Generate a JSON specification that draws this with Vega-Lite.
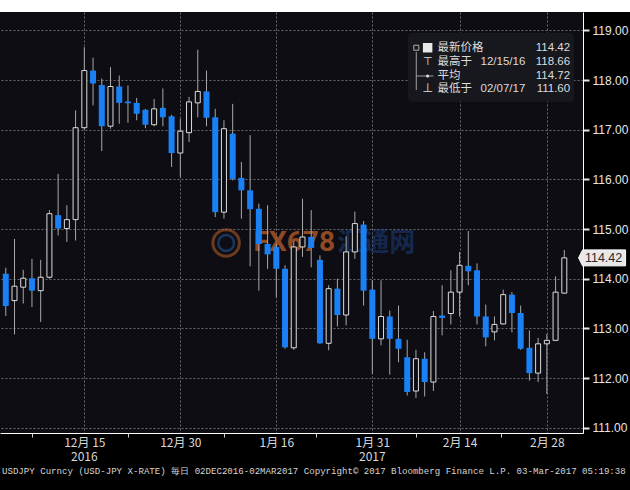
{
  "$schema": "https://vega.github.io/schema/vega-lite/v6.json",
  "width": 583,
  "height": 421,
  "autosize": {"type": "none"},
  "padding": {"left": 0, "top": 12, "right": 47, "bottom": 57},
  "background": "#000000",
  "config": {
    "view": {"fill": "#0d0d13", "stroke": null},
    "text": {"font": "Noto Sans CJK SC"}
  },
  "title": {
    "text": "USDJPY Curncy (USD-JPY X-RATE)  毎日 02DEC2016-02MAR2017  Copyright© 2017 Bloomberg Finance L.P.  03-Mar-2017 05:19:38",
    "orient": "bottom",
    "anchor": "start",
    "frame": "group",
    "font": "Liberation Mono",
    "fontSize": 9.1,
    "fontWeight": "normal",
    "color": "#d4d4d4",
    "offset": 4,
    "dx": 2
  },
  "data": {
    "values": [
      {"d": "2016-12-02", "i": 0, "o": 114.10, "h": 114.22, "l": 113.25, "c": 113.45},
      {"d": "2016-12-05", "i": 1, "o": 113.56, "h": 114.80, "l": 112.88, "c": 113.85},
      {"d": "2016-12-06", "i": 2, "o": 113.83, "h": 114.18, "l": 113.50, "c": 114.01},
      {"d": "2016-12-07", "i": 3, "o": 114.01, "h": 114.40, "l": 113.43, "c": 113.76},
      {"d": "2016-12-08", "i": 4, "o": 113.76, "h": 114.38, "l": 113.13, "c": 114.03},
      {"d": "2016-12-09", "i": 5, "o": 114.03, "h": 115.38, "l": 114.00, "c": 115.31},
      {"d": "2016-12-12", "i": 6, "o": 115.28, "h": 116.11, "l": 114.87, "c": 115.01},
      {"d": "2016-12-13", "i": 7, "o": 115.01, "h": 115.48, "l": 114.74, "c": 115.19},
      {"d": "2016-12-14", "i": 8, "o": 115.19, "h": 117.39, "l": 114.77, "c": 117.04},
      {"d": "2016-12-15", "i": 9, "o": 117.04, "h": 118.66, "l": 117.00, "c": 118.19},
      {"d": "2016-12-16", "i": 10, "o": 118.19, "h": 118.45, "l": 117.49, "c": 117.93},
      {"d": "2016-12-19", "i": 11, "o": 117.90, "h": 118.03, "l": 116.57, "c": 117.07},
      {"d": "2016-12-20", "i": 12, "o": 117.07, "h": 118.26, "l": 117.02, "c": 117.87},
      {"d": "2016-12-21", "i": 13, "o": 117.87, "h": 118.09, "l": 117.12, "c": 117.54},
      {"d": "2016-12-22", "i": 14, "o": 117.57, "h": 117.89, "l": 117.14, "c": 117.53},
      {"d": "2016-12-23", "i": 15, "o": 117.54, "h": 117.64, "l": 117.19, "c": 117.32},
      {"d": "2016-12-26", "i": 16, "o": 117.40, "h": 117.42, "l": 117.03, "c": 117.10},
      {"d": "2016-12-27", "i": 17, "o": 117.10, "h": 117.62, "l": 117.07, "c": 117.42},
      {"d": "2016-12-28", "i": 18, "o": 117.44, "h": 117.83, "l": 117.07, "c": 117.25},
      {"d": "2016-12-29", "i": 19, "o": 117.27, "h": 117.30, "l": 116.25, "c": 116.53},
      {"d": "2016-12-30", "i": 20, "o": 116.53, "h": 117.22, "l": 116.05, "c": 116.97},
      {"d": "2017-01-02", "i": 21, "o": 116.94, "h": 117.66, "l": 116.75, "c": 117.56},
      {"d": "2017-01-03", "i": 22, "o": 117.54, "h": 118.61, "l": 117.25, "c": 117.77},
      {"d": "2017-01-04", "i": 23, "o": 117.77, "h": 118.19, "l": 117.07, "c": 117.24},
      {"d": "2017-01-05", "i": 24, "o": 117.25, "h": 117.42, "l": 115.24, "c": 115.34},
      {"d": "2017-01-06", "i": 25, "o": 115.34, "h": 117.19, "l": 115.21, "c": 117.02},
      {"d": "2017-01-09", "i": 26, "o": 116.92, "h": 117.52, "l": 115.98, "c": 116.01},
      {"d": "2017-01-10", "i": 27, "o": 116.03, "h": 116.35, "l": 115.21, "c": 115.78},
      {"d": "2017-01-11", "i": 28, "o": 115.78, "h": 116.89, "l": 114.25, "c": 115.40},
      {"d": "2017-01-12", "i": 29, "o": 115.41, "h": 115.51, "l": 113.76, "c": 114.70},
      {"d": "2017-01-13", "i": 30, "o": 114.70, "h": 115.48, "l": 114.20, "c": 114.49},
      {"d": "2017-01-16", "i": 31, "o": 114.64, "h": 114.70, "l": 113.63, "c": 114.20},
      {"d": "2017-01-17", "i": 32, "o": 114.20, "h": 114.27, "l": 112.59, "c": 112.62},
      {"d": "2017-01-18", "i": 33, "o": 112.61, "h": 114.76, "l": 112.57, "c": 114.64},
      {"d": "2017-01-19", "i": 34, "o": 114.64, "h": 115.61, "l": 114.44, "c": 114.84},
      {"d": "2017-01-20", "i": 35, "o": 114.84, "h": 115.38, "l": 114.23, "c": 114.62},
      {"d": "2017-01-23", "i": 36, "o": 114.38, "h": 114.47, "l": 112.69, "c": 112.70},
      {"d": "2017-01-24", "i": 37, "o": 112.70, "h": 113.87, "l": 112.56, "c": 113.80},
      {"d": "2017-01-25", "i": 38, "o": 113.80, "h": 114.00, "l": 113.04, "c": 113.27},
      {"d": "2017-01-26", "i": 39, "o": 113.27, "h": 114.85, "l": 113.06, "c": 114.54},
      {"d": "2017-01-27", "i": 40, "o": 114.54, "h": 115.35, "l": 114.40, "c": 115.11},
      {"d": "2017-01-30", "i": 41, "o": 115.09, "h": 115.16, "l": 113.46, "c": 113.76},
      {"d": "2017-01-31", "i": 42, "o": 113.78, "h": 113.97, "l": 112.09, "c": 112.79},
      {"d": "2017-02-01", "i": 43, "o": 112.79, "h": 113.97, "l": 112.66, "c": 113.24},
      {"d": "2017-02-02", "i": 44, "o": 113.24, "h": 113.36, "l": 112.07, "c": 112.79},
      {"d": "2017-02-03", "i": 45, "o": 112.79, "h": 113.46, "l": 112.32, "c": 112.59},
      {"d": "2017-02-06", "i": 46, "o": 112.42, "h": 112.77, "l": 111.65, "c": 111.72},
      {"d": "2017-02-07", "i": 47, "o": 111.74, "h": 112.57, "l": 111.60, "c": 112.39},
      {"d": "2017-02-08", "i": 48, "o": 112.39, "h": 112.52, "l": 111.63, "c": 111.92},
      {"d": "2017-02-09", "i": 49, "o": 111.92, "h": 113.35, "l": 111.74, "c": 113.24},
      {"d": "2017-02-10", "i": 50, "o": 113.26, "h": 113.87, "l": 112.86, "c": 113.21},
      {"d": "2017-02-13", "i": 51, "o": 113.30, "h": 114.17, "l": 113.08, "c": 113.73},
      {"d": "2017-02-14", "i": 52, "o": 113.73, "h": 114.54, "l": 113.24, "c": 114.27},
      {"d": "2017-02-15", "i": 53, "o": 114.26, "h": 114.96, "l": 113.87, "c": 114.15},
      {"d": "2017-02-16", "i": 54, "o": 114.17, "h": 114.31, "l": 113.08, "c": 113.24},
      {"d": "2017-02-17", "i": 55, "o": 113.24, "h": 113.48, "l": 112.64, "c": 112.82},
      {"d": "2017-02-20", "i": 56, "o": 112.93, "h": 113.24, "l": 112.76, "c": 113.08},
      {"d": "2017-02-21", "i": 57, "o": 113.09, "h": 113.78, "l": 113.08, "c": 113.68},
      {"d": "2017-02-22", "i": 58, "o": 113.68, "h": 113.73, "l": 112.92, "c": 113.31},
      {"d": "2017-02-23", "i": 59, "o": 113.31, "h": 113.46, "l": 112.57, "c": 112.59},
      {"d": "2017-02-24", "i": 60, "o": 112.61, "h": 112.96, "l": 111.95, "c": 112.10},
      {"d": "2017-02-27", "i": 61, "o": 112.10, "h": 112.81, "l": 111.92, "c": 112.69},
      {"d": "2017-02-28", "i": 62, "o": 112.69, "h": 112.89, "l": 111.68, "c": 112.76},
      {"d": "2017-03-01", "i": 63, "o": 112.76, "h": 114.05, "l": 112.76, "c": 113.73},
      {"d": "2017-03-02", "i": 64, "o": 113.71, "h": 114.58, "l": 113.70, "c": 114.42}
    ]
  },
  "layer": [
    {
      "data": {"values": [{}]},
      "mark": {"type": "point", "shape": "circle", "filled": false, "stroke": "#b8602a", "strokeWidth": 3, "opacity": 0.55, "size": 700},
      "encoding": {"x": {"datum": 25.25}, "y": {"datum": 114.72}}
    },
    {
      "data": {"values": [{}]},
      "mark": {"type": "point", "shape": "circle", "filled": false, "stroke": "#2a5a9a", "strokeWidth": 2.5, "opacity": 0.55, "size": 250},
      "encoding": {"x": {"datum": 25.25}, "y": {"datum": 114.72}}
    },
    {
      "data": {"values": [{}]},
      "mark": {"type": "text", "text": "FX678", "align": "left", "baseline": "middle", "font": "Roboto", "fontWeight": "bold", "fontSize": 28, "color": "#c8642a", "opacity": 0.7},
      "encoding": {"x": {"datum": 28.4}, "y": {"datum": 114.72}}
    },
    {
      "data": {"values": [{}]},
      "mark": {"type": "text", "text": "汇通网", "align": "left", "baseline": "middle", "font": "Noto Sans CJK SC", "fontWeight": "bold", "fontSize": 26, "color": "#1d4486", "opacity": 0.5},
      "encoding": {"x": {"datum": 37.98}, "y": {"datum": 114.72}}
    },
    {
      "mark": {"type": "rule", "color": "#a8a8a8", "strokeWidth": 1},
      "encoding": {
        "x": {
          "field": "i",
          "type": "quantitative",
          "scale": {"domain": [-0.089, 65.57], "nice": false, "zero": false},
          "axis": {
            "title": null,
            "orient": "bottom",
            "values": [3, 9, 14, 20, 25, 31, 35.6, 42, 47, 52, 56.7, 62],
            "labelExpr": "datum.value == 9 ? '12月 15' : datum.value == 20 ? '12月 30' : datum.value == 31 ? '1月 16' : datum.value == 42 ? '1月 31' : datum.value == 52 ? '2月 14' : datum.value == 62 ? '2月 28' : ''",
            "labelOverlap": false,
            "labelFlush": false,
            "labelFont": "Noto Sans CJK SC",
            "labelFontSize": 12,
            "labelColor": "#d8d8d8",
            "labelPadding": 4,
            "domainColor": "#ffffff",
            "domainWidth": 1,
            "tickColor": "#cfcfcf",
            "tickSize": {"condition": {"test": "indexof([9, 20, 31, 42, 52, 62], datum.value) >= 0", "value": 0}, "value": 4},
            "grid": true,
            "gridColor": "#6a6a6a",
            "gridDash": [2, 2],
            "gridOpacity": {"condition": {"test": "indexof([9, 20, 31, 42, 52, 62], datum.value) < 0", "value": 0}, "value": 1}
          }
        },
        "y": {
          "field": "l",
          "type": "quantitative",
          "scale": {"domain": [110.895, 119.369], "nice": false, "zero": false},
          "axis": {
            "title": null,
            "orient": "right",
            "values": [111, 111.5, 112, 112.5, 113, 113.5, 114, 114.5, 115, 115.5, 116, 116.5, 117, 117.5, 118, 118.5, 119],
            "format": ".2f",
            "labelExpr": "datum.value % 1 == 0 ? datum.label : ''",
            "labelFont": "Liberation Sans",
            "labelFontSize": 12,
            "labelColor": "#e6e6e6",
            "labelPadding": 3,
            "labelOverlap": false,
            "domainColor": "#ffffff",
            "tickColor": "#e6e6e6",
            "tickSize": {"condition": {"test": "datum.value % 1 != 0", "value": 4}, "value": 6},
            "tickWidth": {"condition": {"test": "datum.value % 1 != 0", "value": 1}, "value": 2},
            "grid": true,
            "gridColor": "#6a6a6a",
            "gridDash": [2, 2],
            "gridOpacity": {"condition": {"test": "datum.value % 1 != 0", "value": 0}, "value": 1}
          }
        },
        "y2": {"field": "h"}
      }
    },
    {
      "transform": [{"filter": "datum.c < datum.o"}],
      "mark": {"type": "bar", "size": 6, "fill": "#1a80f5", "stroke": null},
      "encoding": {
        "x": {"field": "i", "type": "quantitative"},
        "y": {"field": "o", "type": "quantitative"},
        "y2": {"field": "c"}
      }
    },
    {
      "transform": [{"filter": "datum.c >= datum.o"}],
      "mark": {"type": "bar", "size": 5, "fill": "#0d0d13", "stroke": "#dcdcdc", "strokeWidth": 1},
      "encoding": {
        "x": {"field": "i", "type": "quantitative"},
        "y": {"field": "o", "type": "quantitative"},
        "y2": {"field": "c"}
      }
    },
    {
      "data": {"values": [{}]},
      "mark": {"type": "text", "text": "2016", "align": "center", "baseline": "middle", "font": "Noto Sans CJK SC", "fontSize": 12, "color": "#d8d8d8"},
      "encoding": {"x": {"datum": 9}, "y": {"datum": 110.41}}
    },
    {
      "data": {"values": [{}]},
      "mark": {"type": "text", "text": "2017", "align": "center", "baseline": "middle", "font": "Noto Sans CJK SC", "fontSize": 12, "color": "#d8d8d8"},
      "encoding": {"x": {"datum": 42}, "y": {"datum": 110.41}}
    },
    {
      "data": {"values": [{}]},
      "mark": {"type": "rect", "fill": "#17171e", "cornerRadius": 4},
      "encoding": {"x": {"datum": 46.09}, "x2": {"datum": 65.12}, "y": {"datum": 118.946}, "y2": {"datum": 117.563}}
    },
    {
      "data": {"values": [{}]},
      "mark": {"type": "rule", "color": "#a0a0a0", "strokeWidth": 1},
      "encoding": {"x": {"datum": 47.04}, "y": {"datum": 118.564}, "y2": {"datum": 117.799}}
    },
    {
      "data": {"values": [{}]},
      "mark": {"type": "rule", "color": "#a0a0a0", "strokeWidth": 1},
      "encoding": {"x": {"datum": 47.04}, "x2": {"datum": 49.0}, "y": {"datum": 118.081}}
    },
    {
      "data": {"values": [{}]},
      "mark": {"type": "point", "shape": "square", "filled": false, "stroke": "#b0b0b0", "strokeWidth": 1, "opacity": 1, "size": 25},
      "encoding": {"x": {"datum": 47.04}, "y": {"datum": 118.650}}
    },
    {
      "data": {"values": [{}]},
      "mark": {"type": "point", "shape": "square", "filled": true, "fill": "#e8e8e8", "stroke": null, "opacity": 1, "size": 90},
      "encoding": {"x": {"datum": 48.34}, "y": {"datum": 118.650}}
    },
    {
      "data": {"values": [{}]},
      "mark": {"type": "text", "text": "⊤", "align": "center", "baseline": "middle", "fontSize": 11, "color": "#e0e0e0"},
      "encoding": {"x": {"datum": 48.34}, "y": {"datum": 118.370}}
    },
    {
      "data": {"values": [{}]},
      "mark": {"type": "point", "shape": "circle", "filled": true, "fill": "#e0e0e0", "stroke": null, "opacity": 1, "size": 10},
      "encoding": {"x": {"datum": 48.34}, "y": {"datum": 118.081}}
    },
    {
      "data": {"values": [{}]},
      "mark": {"type": "text", "text": "⊥", "align": "center", "baseline": "middle", "fontSize": 11, "color": "#e0e0e0"},
      "encoding": {"x": {"datum": 48.34}, "y": {"datum": 117.810}}
    },
    {
      "data": {"values": [{}]},
      "mark": {"type": "text", "text": "最新价格", "align": "left", "baseline": "middle", "fontSize": 11.5, "color": "#dcdcdc"},
      "encoding": {"x": {"datum": 49.47}, "y": {"datum": 118.650}}
    },
    {
      "data": {"values": [{}]},
      "mark": {"type": "text", "text": "最高于", "align": "left", "baseline": "middle", "fontSize": 11.5, "color": "#dcdcdc"},
      "encoding": {"x": {"datum": 49.47}, "y": {"datum": 118.370}}
    },
    {
      "data": {"values": [{}]},
      "mark": {"type": "text", "text": "平均", "align": "left", "baseline": "middle", "fontSize": 11.5, "color": "#dcdcdc"},
      "encoding": {"x": {"datum": 49.47}, "y": {"datum": 118.090}}
    },
    {
      "data": {"values": [{}]},
      "mark": {"type": "text", "text": "最低于", "align": "left", "baseline": "middle", "fontSize": 11.5, "color": "#dcdcdc"},
      "encoding": {"x": {"datum": 49.47}, "y": {"datum": 117.810}}
    },
    {
      "data": {"values": [{}]},
      "mark": {"type": "text", "text": "12/15/16", "align": "left", "baseline": "middle", "font": "Liberation Sans", "fontSize": 11.5, "color": "#dcdcdc"},
      "encoding": {"x": {"datum": 54.4}, "y": {"datum": 118.370}}
    },
    {
      "data": {"values": [{}]},
      "mark": {"type": "text", "text": "02/07/17", "align": "left", "baseline": "middle", "font": "Liberation Sans", "fontSize": 11.5, "color": "#dcdcdc"},
      "encoding": {"x": {"datum": 54.4}, "y": {"datum": 117.810}}
    },
    {
      "data": {"values": [{}]},
      "mark": {"type": "text", "text": "114.42", "align": "right", "baseline": "middle", "font": "Liberation Sans", "fontSize": 11.5, "color": "#dcdcdc"},
      "encoding": {"x": {"datum": 64.67}, "y": {"datum": 118.650}}
    },
    {
      "data": {"values": [{}]},
      "mark": {"type": "text", "text": "118.66", "align": "right", "baseline": "middle", "font": "Liberation Sans", "fontSize": 11.5, "color": "#dcdcdc"},
      "encoding": {"x": {"datum": 64.67}, "y": {"datum": 118.370}}
    },
    {
      "data": {"values": [{}]},
      "mark": {"type": "text", "text": "114.72", "align": "right", "baseline": "middle", "font": "Liberation Sans", "fontSize": 11.5, "color": "#dcdcdc"},
      "encoding": {"x": {"datum": 64.67}, "y": {"datum": 118.090}}
    },
    {
      "data": {"values": [{}]},
      "mark": {"type": "text", "text": "111.60", "align": "right", "baseline": "middle", "font": "Liberation Sans", "fontSize": 11.5, "color": "#dcdcdc"},
      "encoding": {"x": {"datum": 64.67}, "y": {"datum": 117.810}}
    },
    {
      "data": {"values": [{}]},
      "mark": {"type": "point", "shape": "M-1,0L-0.83,-0.34L1,-0.34L1,0.34L-0.83,0.34Z", "filled": true, "fill": "#e8e8e8", "stroke": "#ffffff", "strokeWidth": 1, "opacity": 1, "size": 2209},
      "encoding": {"x": {"datum": 68.33}, "y": {"datum": 114.42}}
    },
    {
      "data": {"values": [{}]},
      "mark": {"type": "text", "text": "114.42", "align": "center", "baseline": "middle", "font": "Liberation Sans", "fontSize": 12.5, "color": "#2a2a2a"},
      "encoding": {"x": {"datum": 68.5}, "y": {"datum": 114.42}}
    },
    {
      "data": {"values": [{}]},
      "mark": {"type": "rect", "fill": "#ffffff"},
      "encoding": {"x": {"datum": -1}, "x2": {"datum": 72}, "y": {"datum": 119.369}, "y2": {"datum": 119.9}}
    }
  ]
}
